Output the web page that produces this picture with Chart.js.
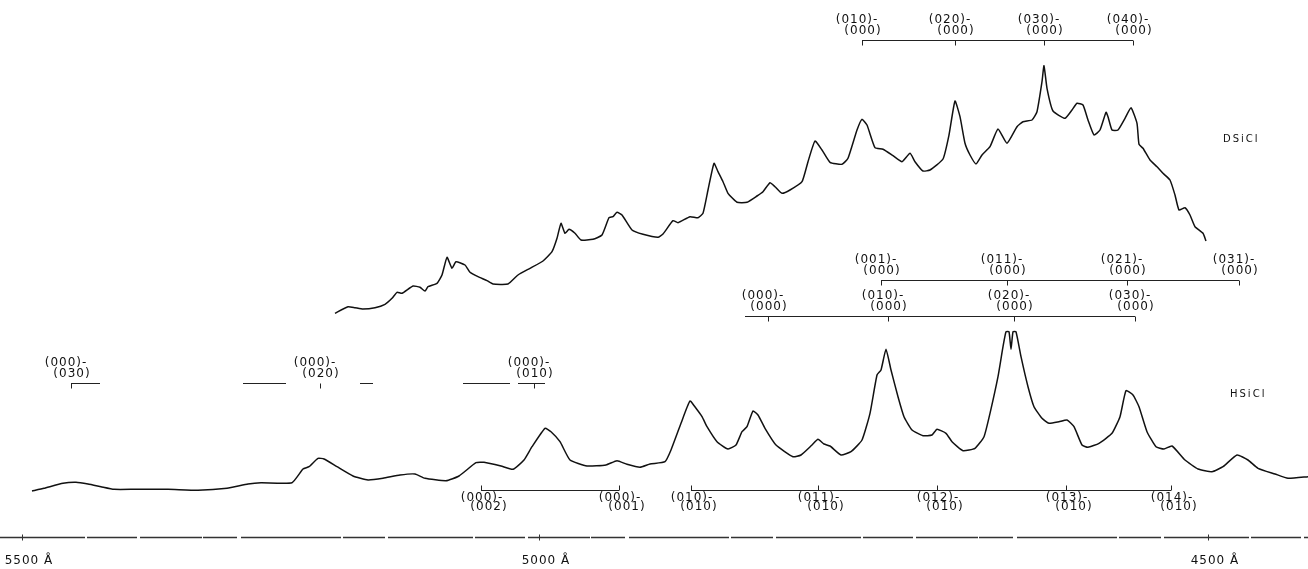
<!DOCTYPE html>
<html>
<head>
<meta charset="utf-8">
<script src="https://cdn.jsdelivr.net/npm/chart.js@4/dist/chart.umd.min.js"></script>
<style>
  html, body { margin: 0; padding: 0; background: #fff; }
  #wrap { width: 1308px; height: 569px; }
</style>
</head>
<body>
<div id="wrap"><canvas id="spectrum" width="1308" height="569"></canvas></div>
<script>
// Emission traces: chart position along the scan and pen deflection above each trace's baseline.
const hsiclX = [32, 44, 63, 76, 88, 101, 114, 135, 168, 198, 227, 248, 261, 292, 303, 309, 318, 324, 337, 353,
  368, 383, 400, 415, 425, 446, 459, 476, 484, 501, 513, 524, 532, 545, 551, 560, 570, 587, 606, 617,
  627, 640, 650, 665, 671, 681, 690, 696, 702, 707, 717, 728, 736, 742, 747, 753, 758, 765, 776, 793,
  801, 812, 818, 824, 830, 841, 851, 862, 870, 877, 881, 886, 891, 898, 904, 912, 923, 932, 937, 946,
  952, 963, 975, 984, 990, 998, 1003, 1006, 1009, 1011, 1013, 1016, 1021, 1028, 1034, 1042, 1049, 1059, 1067, 1074,
  1082, 1088, 1099, 1112, 1120, 1126, 1133, 1139, 1147, 1156, 1164, 1172, 1185, 1198, 1212, 1223, 1237, 1248, 1258, 1275,
  1288, 1308];
const hsiclI = [1, 3.7, 8.7, 9.7, 8, 5.3, 2.7, 2.7, 2.7, 1.7, 3.7, 8, 9.3, 9.3, 23, 25.3, 33.7, 33, 25.3, 16,
  12, 13.7, 17, 18, 13.7, 11.3, 16, 29.3, 29.7, 26, 22.7, 32, 45.3, 63.7, 60.3, 50.3, 32, 26, 27, 31.3,
  27.7, 24.7, 28, 30.3, 42, 68.7, 91, 83.7, 75.3, 65.3, 50.3, 43, 47, 60.3, 65.3, 81, 77, 63.7, 47, 35.3,
  37, 47, 52.7, 48, 46, 37, 40.3, 52, 78.7, 117, 122, 142.7, 122, 95.3, 75.3, 62, 56.3, 57, 62.7, 58.7,
  50.3, 41.3, 43.7, 55.3, 78.7, 115.3, 145.3, 160.3, 160.3, 142.7, 160.3, 160.3, 135.3, 105.3, 85.3, 73.7, 68.7, 70.3, 72, 65.3,
  47, 44.7, 48.7, 58.7, 75.3, 101.3, 97, 85.3, 60.3, 45.3, 43, 46, 32, 23, 20.3, 25.3, 37, 32, 23.7, 18,
  13.7, 15.3];

const dsiclX = [335, 348, 355, 363, 375, 385, 392, 397, 402, 413, 420, 425, 428, 437, 442, 447, 452, 456, 465, 470,
  478, 487, 493, 508, 518, 530, 543, 552, 557, 561, 565, 569, 575, 581, 593, 602, 609, 613, 617, 622,
  632, 643, 658, 663, 673, 678, 690, 698, 703, 708, 714, 718, 723, 728, 737, 747, 757, 763, 770, 775,
  782, 790, 802, 808, 815, 822, 830, 842, 848, 857, 862, 867, 875, 883, 893, 902, 910, 915, 923, 930,
  943, 949, 955, 960, 965, 970, 976, 982, 990, 998, 1007, 1017, 1023, 1032, 1037, 1042, 1044, 1047, 1053, 1065,
  1072, 1077, 1083, 1088, 1094, 1100, 1106, 1108, 1112, 1118, 1125, 1131, 1137, 1139, 1143, 1150, 1157, 1163, 1170, 1175,
  1179, 1185, 1190, 1195, 1203, 1206];
const dsiclI = [1.7, 8.3, 7.3, 6, 7.3, 10.7, 16.7, 22.7, 21.7, 29, 27.7, 24, 28.3, 31.7, 40, 57.7, 46.7, 53.3, 50, 42.7,
  38.3, 34.3, 31, 31, 40, 46.7, 54, 63.3, 76.7, 91.7, 81.7, 85.7, 81.7, 75, 75.7, 80, 97.3, 98.3, 102.7, 100,
  85, 80.7, 77.7, 81, 94.3, 92.3, 98.3, 97.3, 101.7, 125, 151.7, 143.3, 133.3, 121.7, 112.7, 112.7, 119, 123.3, 132.3, 128.3,
  121.7, 125, 133.3, 153.3, 174, 165, 152.7, 150.7, 156.7, 185, 195.7, 190, 167.3, 165.7, 159.3, 153.3, 161.7, 153.3, 144, 145,
  156, 180, 214, 198.3, 171.7, 160, 151, 160, 168.3, 186, 171.7, 188.3, 193.3, 195, 203.3, 233.3, 249.3, 226.7, 204, 196.7,
  205, 211.7, 210, 195, 180, 185, 202.7, 198.3, 185, 185, 196.7, 207.3, 191.7, 170.7, 166.7, 155, 148.3, 141.7, 135, 120,
  105, 107.3, 100, 88.3, 81.7, 74];

// Wavelength calibration marks along the scan.
const wavelengthLabels = ['5500 Å', '5000 Å', '4500 Å'];
const wavelengthMarks = [22, 539, 1208];

// Vibronic assignments (upper state - lower state) and their band positions.
const dsiclUpper = ['(010)-', '(020)-', '(030)-', '(040)-'];
const dsiclLower = ['(000)', '(000)', '(000)', '(000)'];
const dsiclBandPos = [862, 955, 1044, 1133];

const hsiclV3Upper = ['(001)-', '(011)-', '(021)-', '(031)-'];
const hsiclV3Lower = ['(000)', '(000)', '(000)', '(000)'];
const hsiclV3Pos = [881, 1007, 1127, 1239];

const hsiclV2Upper = ['(000)-', '(010)-', '(020)-', '(030)-'];
const hsiclV2Lower = ['(000)', '(000)', '(000)', '(000)'];
const hsiclV2Pos = [768, 888, 1014, 1135];

const hsiclGroundUpper = ['(000)-', '(000)-', '(000)-'];
const hsiclGroundLower = ['(030)', '(020)', '(010)'];
const hsiclGroundPos = [71, 320, 534];

const hsiclV1Upper = ['(000)-', '(000)-'];
const hsiclV1Lower = ['(002)', '(001)'];
const hsiclV1Pos = [481, 619];

const hsiclSeqUpper = ['(010)-', '(011)-', '(012)-', '(013)-', '(014)-'];
const hsiclSeqLower = ['(010)', '(010)', '(010)', '(010)', '(010)'];
const hsiclSeqPos = [691, 818, 937, 1066, 1171];

const traceNames = ['DSiCl', 'HSiCl'];

// Bracket layout: which axis, vertical level, label side and the drawn line pieces.
const brackets = [
  { axis: 'yD', level: 275, side: 'above', pos: dsiclBandPos, upper: dsiclUpper, lower: dsiclLower, spans: [[862, 1133]] },
  { axis: 'yH', level: 212, side: 'above', pos: hsiclV3Pos, upper: hsiclV3Upper, lower: hsiclV3Lower, spans: [[881, 1239]] },
  { axis: 'yH', level: 176, side: 'above', pos: hsiclV2Pos, upper: hsiclV2Upper, lower: hsiclV2Lower, spans: [[745, 1135]] },
  { axis: 'yH', level: 109, side: 'above', pos: hsiclGroundPos, upper: hsiclGroundUpper, lower: hsiclGroundLower,
    spans: [[71, 100], [243, 286], [360, 373], [463, 510], [518, 545]] },
  { axis: 'yH', level: 2, side: 'below', pos: hsiclV1Pos, upper: hsiclV1Upper, lower: hsiclV1Lower, spans: [[481, 619]] },
  { axis: 'yH', level: 2, side: 'below', pos: hsiclSeqPos, upper: hsiclSeqUpper, lower: hsiclSeqLower, spans: [[691, 1171]] }
];

const annotations = {
  id: 'annotations',
  afterDatasetsDraw(chart) {
    const ctx = chart.ctx;
    const xs = chart.scales.x;
    ctx.save();
    ctx.fillStyle = '#111';
    ctx.strokeStyle = '#222';
    ctx.lineWidth = 1;

    brackets.forEach(b => {
      const ys = chart.scales[b.axis];
      const py = Math.round(ys.getPixelForValue(b.level)) + 0.5;
      ctx.beginPath();
      b.spans.forEach(([a, c]) => {
        ctx.moveTo(xs.getPixelForValue(a), py);
        ctx.lineTo(xs.getPixelForValue(c), py);
      });
      const dir = b.side === 'above' ? 1 : -1;
      b.pos.forEach(p => {
        const px = Math.round(xs.getPixelForValue(p)) + 0.5;
        ctx.moveTo(px, py);
        ctx.lineTo(px, py + dir * 5);
      });
      ctx.stroke();

      ctx.font = '12px "DejaVu Sans"';
      ctx.letterSpacing = '1px';
      ctx.textAlign = 'center';
      ctx.textBaseline = 'middle';
      b.pos.forEach((p, i) => {
        const px = xs.getPixelForValue(p);
        if (b.side === 'above') {
          ctx.fillText(b.upper[i], px - 5, py - 21);
          ctx.fillText(b.lower[i], px + 1, py - 10);
        } else {
          ctx.fillText(b.upper[i], px + 1, py + 7);
          ctx.fillText(b.lower[i], px + 8, py + 16);
        }
      });
    });

    // trace names
    ctx.font = '10px "DejaVu Sans"';
    ctx.letterSpacing = '2px';
    ctx.textAlign = 'left';
    ctx.textBaseline = 'middle';
    ctx.fillText(traceNames[0], xs.getPixelForValue(1223), chart.scales.yD.getPixelForValue(176));
    ctx.fillText(traceNames[1], xs.getPixelForValue(1230), chart.scales.yH.getPixelForValue(98));

    // wavelength axis (broken dashed rule) with calibration marks
    const yA = Math.round(chart.scales.yH.getPixelForValue(-45)) + 0.5;
    ctx.strokeStyle = '#333';
    ctx.lineWidth = 1.3;
    ctx.setLineDash([85, 2, 50, 3, 62, 1, 34, 4, 100, 2, 42, 3]);
    ctx.beginPath();
    ctx.moveTo(xs.getPixelForValue(0), yA);
    ctx.lineTo(xs.getPixelForValue(1308), yA);
    ctx.stroke();
    ctx.setLineDash([]);
    ctx.lineWidth = 1;
    ctx.beginPath();
    wavelengthMarks.forEach(m => {
      const px = Math.round(xs.getPixelForValue(m)) + 0.5;
      ctx.moveTo(px, yA - 3);
      ctx.lineTo(px, yA + 3);
    });
    ctx.stroke();
    ctx.font = '12px "DejaVu Sans"';
    ctx.letterSpacing = '1px';
    ctx.textAlign = 'center';
    wavelengthMarks.forEach((m, i) => {
      ctx.fillText(wavelengthLabels[i], xs.getPixelForValue(m) + 7, yA + 23);
    });
    ctx.restore();
  }
};

const toPoints = (xArr, yArr) => xArr.map((x, i) => ({ x, y: yArr[i] }));

new Chart(document.getElementById('spectrum'), {
  type: 'line',
  data: {
    datasets: [
      { label: traceNames[0], data: toPoints(dsiclX, dsiclI), yAxisID: 'yD',
        borderColor: '#111', borderWidth: 1.5, pointRadius: 0, tension: 0.15, fill: false },
      { label: traceNames[1], data: toPoints(hsiclX, hsiclI), yAxisID: 'yH',
        borderColor: '#111', borderWidth: 1.5, pointRadius: 0, tension: 0.15, fill: false }
    ]
  },
  options: {
    responsive: false,
    devicePixelRatio: 1,
    animation: false,
    layout: { padding: 0 },
    plugins: { legend: { display: false }, tooltip: { enabled: false } },
    scales: {
      x: { type: 'linear', min: 0, max: 1308, display: false },
      yH: { type: 'linear', min: -77, max: 492, display: false },
      yD: { type: 'linear', min: -254, max: 315, display: false }
    }
  },
  plugins: [annotations]
});
</script>
</body>
</html>
